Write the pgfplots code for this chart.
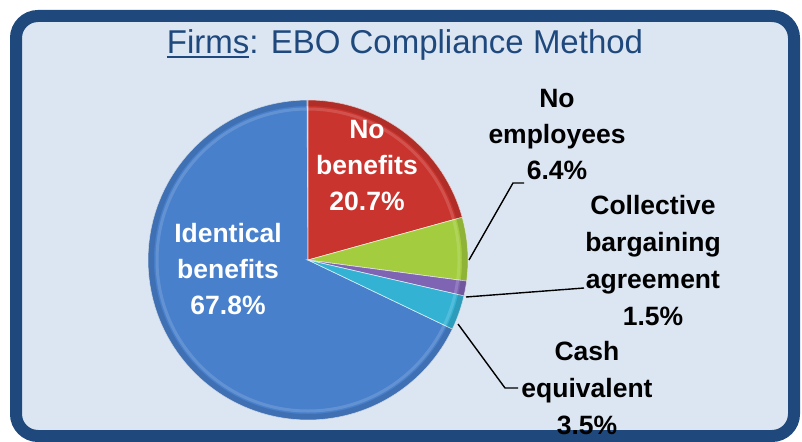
\documentclass[border=0pt]{standalone}
\usepackage{pgfplots}
\pgfplotsset{compat=1.18}
\usepackage{fontspec}
\setmainfont{Liberation Sans}
\definecolor{frame}{RGB}{31,73,125}
\definecolor{bg}{RGB}{220,230,242}
\definecolor{cBlue}{RGB}{72,128,204}
\definecolor{cRed}{RGB}{202,52,46}
\definecolor{cGreen}{RGB}{163,204,62}
\definecolor{cPurple}{RGB}{128,100,180}
\definecolor{cCyan}{RGB}{52,178,212}
% shares in percent
\def\pIdent{67.8}\def\pNoBen{20.7}\def\pNoEmp{6.4}\def\pColl{1.5}\def\pCash{3.5}
\begin{document}
\begin{tikzpicture}
\pgfmathsetmacro\aA{90}
\pgfmathsetmacro\aB{\aA-3.6*\pNoBen}
\pgfmathsetmacro\aC{\aB-3.6*\pNoEmp}
\pgfmathsetmacro\aD{\aC-3.6*\pColl}
\pgfmathsetmacro\aE{\aD-3.6*\pCash}
\pgfmathsetmacro\aF{\aE-3.6*\pIdent}
\def\cx{308}\def\cy{260}\def\R{160}
\begin{axis}[width=802bp, height=442bp, scale only axis,
  xmin=0, xmax=802, ymin=0, ymax=442, y dir=reverse,
  hide axis, clip=false]
\draw[fill=bg, draw=frame, line width=12bp, rounded corners=22bp]
  (axis cs:16,16) rectangle (axis cs:794,436);
% pie sectors
\addplot[fill=cBlue, draw=white!80!cBlue, line width=0.6bp, domain=\aF:\aE, samples=120]
  ({\cx+\R*cos(x)},{\cy-\R*sin(x)}) -- (axis cs:\cx,\cy) -- cycle;
\addplot[fill=cRed, draw=white!80!cRed, line width=0.6bp, domain=\aB:\aA, samples=60]
  ({\cx+\R*cos(x)},{\cy-\R*sin(x)}) -- (axis cs:\cx,\cy) -- cycle;
\addplot[fill=cGreen, draw=white!80!cGreen, line width=0.6bp, domain=\aC:\aB, samples=30]
  ({\cx+\R*cos(x)},{\cy-\R*sin(x)}) -- (axis cs:\cx,\cy) -- cycle;
\addplot[fill=cPurple, draw=white!80!cPurple, line width=0.6bp, domain=\aD:\aC, samples=10]
  ({\cx+\R*cos(x)},{\cy-\R*sin(x)}) -- (axis cs:\cx,\cy) -- cycle;
\addplot[fill=cCyan, draw=white!80!cCyan, line width=0.6bp, domain=\aE:\aD, samples=20]
  ({\cx+\R*cos(x)},{\cy-\R*sin(x)}) -- (axis cs:\cx,\cy) -- cycle;
% bevel rim
\draw[black, opacity=0.12, line width=6bp] (axis cs:\cx,\cy) circle[radius=157bp];
\draw[white, opacity=0.15, line width=3bp] (axis cs:\cx,\cy) circle[radius=151bp];
% leader lines
\draw[black, line width=1.4bp] (axis cs:469,260) -- (axis cs:513,183) -- (axis cs:524,183);
\draw[black, line width=1.4bp] (axis cs:466,297) -- (axis cs:584,288);
\draw[black, line width=1.4bp] (axis cs:458,324) -- (axis cs:505,388) -- (axis cs:518,388);
% title
\node[text=frame, font=\fontsize{33bp}{40bp}\selectfont] at (axis cs:405,45)
  {{\setbox0\hbox{Firms}\rlap{\rule[-4bp]{\wd0}{2bp}}\box0}: EBO Compliance Method};
% labels
\node[text=white, font=\bfseries\fontsize{26.5bp}{36bp}\selectfont, align=center, inner sep=0]
  at (axis cs:228,269) {Identical\\benefits\\67.8\%};
\node[text=white, font=\bfseries\fontsize{26.5bp}{36bp}\selectfont, align=center, inner sep=0]
  at (axis cs:367,166) {No\\benefits\\20.7\%};
\node[text=black, font=\bfseries\fontsize{26.5bp}{36bp}\selectfont, align=center, inner sep=0]
  at (axis cs:557,135) {No\\employees\\6.4\%};
\node[text=black, font=\bfseries\fontsize{26.5bp}{37bp}\selectfont, align=center, inner sep=0]
  at (axis cs:653,261) {Collective\\bargaining\\agreement\\1.5\%};
\node[text=black, font=\bfseries\fontsize{26.5bp}{37bp}\selectfont, align=center, inner sep=0]
  at (axis cs:587,388) {Cash\\equivalent\\3.5\%};
\end{axis}
\pgfresetboundingbox
\useasboundingbox (current axis.south west) rectangle (current axis.north east);
\end{tikzpicture}
\end{document}
